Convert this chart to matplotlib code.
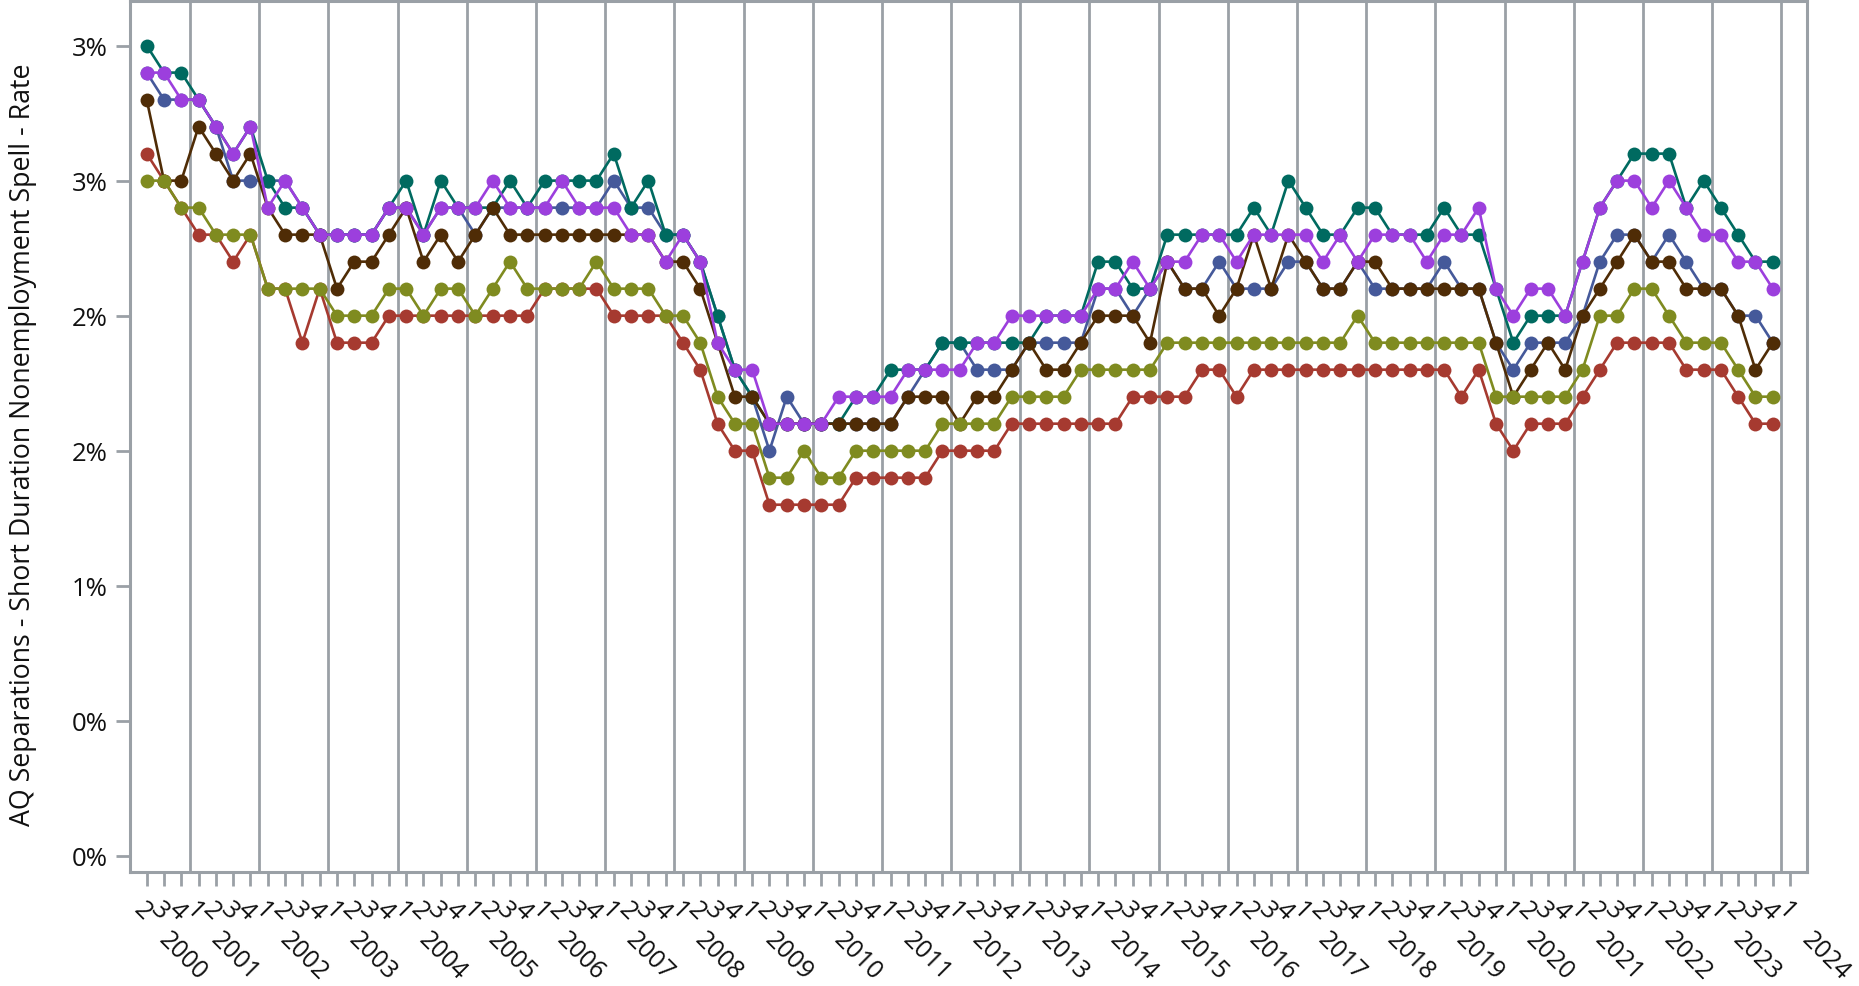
import numpy as np
import matplotlib
matplotlib.use("Agg")
import matplotlib.pyplot as plt
from matplotlib.transforms import blended_transform_factory, offset_copy

plt.rcParams['font.family'] = ['Open Sans', 'DejaVu Sans']

# ---------------- data ----------------
years = list(range(2000, 2025))
first_year_quarters = [2, 3, 4]
last_year_quarters = [1]
quarters = ([(2000, q) for q in first_year_quarters]
            + [(y, q) for y in range(2001, 2024) for q in (1, 2, 3, 4)]
            + [(2024, q) for q in last_year_quarters])
quarter_labels = [str(q) for (_, q) in quarters]

y_ticks = [0.0, 0.5, 1.0, 1.5, 2.0, 2.5, 3.0]
y_tick_labels = ["0%", "0%", "1%", "2%", "2%", "3%", "3%"]
y_title = "AQ Separations - Short Duration Nonemployment Spell - Rate"

teal = [3.0, 2.9, 2.9, 2.8, 2.7, 2.6, 2.7, 2.5, 2.4, 2.4, 2.3, 2.3,
        2.3, 2.3, 2.4, 2.5, 2.3, 2.5, 2.4, 2.4, 2.4, 2.5, 2.4, 2.5,
        2.5, 2.5, 2.5, 2.6, 2.4, 2.5, 2.3, 2.3, 2.2, 2.0, 1.8, 1.7,
        1.6, 1.6, 1.6, 1.6, 1.6, 1.7, 1.7, 1.8, 1.8, 1.8, 1.9, 1.9,
        1.9, 1.9, 1.9, 1.9, 2.0, 2.0, 2.0, 2.2, 2.2, 2.1, 2.1, 2.3,
        2.3, 2.3, 2.3, 2.3, 2.4, 2.3, 2.5, 2.4, 2.3, 2.3, 2.4, 2.4,
        2.3, 2.3, 2.3, 2.4, 2.3, 2.3, 2.1, 1.9, 2.0, 2.0, 2.0, 2.2,
        2.4, 2.5, 2.6, 2.6, 2.6, 2.4, 2.5, 2.4, 2.3, 2.2, 2.2]

slate = [2.9, 2.8, 2.8, 2.8, 2.7, 2.5, 2.5, 2.5, 2.5, 2.4, 2.3, 2.3,
         2.3, 2.3, 2.4, 2.4, 2.3, 2.4, 2.4, 2.3, 2.4, 2.4, 2.4, 2.4,
         2.4, 2.4, 2.4, 2.5, 2.4, 2.4, 2.3, 2.3, 2.2, 2.0, 1.8, 1.7,
         1.5, 1.7, 1.6, 1.6, 1.6, 1.6, 1.6, 1.6, 1.7, 1.8, 1.9, 1.9,
         1.8, 1.8, 1.8, 1.9, 1.9, 1.9, 1.9, 2.1, 2.1, 2.0, 2.1, 2.2,
         2.1, 2.1, 2.2, 2.1, 2.1, 2.1, 2.2, 2.2, 2.1, 2.1, 2.2, 2.1,
         2.1, 2.1, 2.1, 2.2, 2.1, 2.1, 1.9, 1.8, 1.9, 1.9, 1.9, 2.0,
         2.2, 2.3, 2.3, 2.2, 2.3, 2.2, 2.1, 2.1, 2.0, 2.0, 1.9]

purple = [2.9, 2.9, 2.8, 2.8, 2.7, 2.6, 2.7, 2.4, 2.5, 2.4, 2.3, 2.3,
          2.3, 2.3, 2.4, 2.4, 2.3, 2.4, 2.4, 2.4, 2.5, 2.4, 2.4, 2.4,
          2.5, 2.4, 2.4, 2.4, 2.3, 2.3, 2.2, 2.3, 2.2, 1.9, 1.8, 1.8,
          1.6, 1.6, 1.6, 1.6, 1.7, 1.7, 1.7, 1.7, 1.8, 1.8, 1.8, 1.8,
          1.9, 1.9, 2.0, 2.0, 2.0, 2.0, 2.0, 2.1, 2.1, 2.2, 2.1, 2.2,
          2.2, 2.3, 2.3, 2.2, 2.3, 2.3, 2.3, 2.3, 2.2, 2.3, 2.2, 2.3,
          2.3, 2.3, 2.2, 2.3, 2.3, 2.4, 2.1, 2.0, 2.1, 2.1, 2.0, 2.2,
          2.4, 2.5, 2.5, 2.4, 2.5, 2.4, 2.3, 2.3, 2.2, 2.2, 2.1]

brown = [2.8, 2.5, 2.5, 2.7, 2.6, 2.5, 2.6, 2.4, 2.3, 2.3, 2.3, 2.1,
         2.2, 2.2, 2.3, 2.4, 2.2, 2.3, 2.2, 2.3, 2.4, 2.3, 2.3, 2.3,
         2.3, 2.3, 2.3, 2.3, 2.3, 2.3, 2.2, 2.2, 2.1, 1.9, 1.7, 1.7,
         1.6, 1.6, 1.6, 1.6, 1.6, 1.6, 1.6, 1.6, 1.7, 1.7, 1.7, 1.6,
         1.7, 1.7, 1.8, 1.9, 1.8, 1.8, 1.9, 2.0, 2.0, 2.0, 1.9, 2.2,
         2.1, 2.1, 2.0, 2.1, 2.3, 2.1, 2.3, 2.2, 2.1, 2.1, 2.2, 2.2,
         2.1, 2.1, 2.1, 2.1, 2.1, 2.1, 1.9, 1.7, 1.8, 1.9, 1.8, 2.0,
         2.1, 2.2, 2.3, 2.2, 2.2, 2.1, 2.1, 2.1, 2.0, 1.8, 1.9]

olive = [2.5, 2.5, 2.4, 2.4, 2.3, 2.3, 2.3, 2.1, 2.1, 2.1, 2.1, 2.0,
         2.0, 2.0, 2.1, 2.1, 2.0, 2.1, 2.1, 2.0, 2.1, 2.2, 2.1, 2.1,
         2.1, 2.1, 2.2, 2.1, 2.1, 2.1, 2.0, 2.0, 1.9, 1.7, 1.6, 1.6,
         1.4, 1.4, 1.5, 1.4, 1.4, 1.5, 1.5, 1.5, 1.5, 1.5, 1.6, 1.6,
         1.6, 1.6, 1.7, 1.7, 1.7, 1.7, 1.8, 1.8, 1.8, 1.8, 1.8, 1.9,
         1.9, 1.9, 1.9, 1.9, 1.9, 1.9, 1.9, 1.9, 1.9, 1.9, 2.0, 1.9,
         1.9, 1.9, 1.9, 1.9, 1.9, 1.9, 1.7, 1.7, 1.7, 1.7, 1.7, 1.8,
         2.0, 2.0, 2.1, 2.1, 2.0, 1.9, 1.9, 1.9, 1.8, 1.7, 1.7]

red = [2.6, 2.5, 2.4, 2.3, 2.3, 2.2, 2.3, 2.1, 2.1, 1.9, 2.1, 1.9,
       1.9, 1.9, 2.0, 2.0, 2.0, 2.0, 2.0, 2.0, 2.0, 2.0, 2.0, 2.1,
       2.1, 2.1, 2.1, 2.0, 2.0, 2.0, 2.0, 1.9, 1.8, 1.6, 1.5, 1.5,
       1.3, 1.3, 1.3, 1.3, 1.3, 1.4, 1.4, 1.4, 1.4, 1.4, 1.5, 1.5,
       1.5, 1.5, 1.6, 1.6, 1.6, 1.6, 1.6, 1.6, 1.6, 1.7, 1.7, 1.7,
       1.7, 1.8, 1.8, 1.7, 1.8, 1.8, 1.8, 1.8, 1.8, 1.8, 1.8, 1.8,
       1.8, 1.8, 1.8, 1.8, 1.7, 1.8, 1.6, 1.5, 1.6, 1.6, 1.6, 1.7,
       1.8, 1.9, 1.9, 1.9, 1.9, 1.8, 1.8, 1.8, 1.7, 1.6, 1.6]

# drawing order: bottom to top
series = [
    (red, "#a63a30"),
    (slate, "#45599a"),
    (teal, "#006a60"),
    (brown, "#4f2c06"),
    (olive, "#7f8b20"),
    (purple, "#9c3fdd"),
]

# ---------------- figure ----------------
DPI = 100
W, H = 1859, 987
fig = plt.figure(figsize=(W / DPI, H / DPI), dpi=DPI)
ax_left, ax_right, ax_bottom, ax_top = 130, 1806.7, 872.7, 1.5
ax = fig.add_axes([ax_left / W, (H - ax_bottom) / H,
                   (ax_right - ax_left) / W, (ax_bottom - ax_top) / H])

grey = "#9aa0a6"
txt = "#111111"
n_cat = len(quarters)

for vals, col in series:
    x = np.arange(len(vals))
    ax.plot(x, vals, color=col, lw=1.9, marker="o", markersize=10,
            markeredgewidth=0, zorder=3, clip_on=False)

# year separators
for i, (y, q) in enumerate(quarters):
    if q == 1:
        ax.axvline(i - 0.5, color=grey, lw=2.0, zorder=1)

ax.set_xlim(-0.965, n_cat - 1 + 0.96)
ax.set_ylim(-0.059, 3.167)

for s in ax.spines.values():
    s.set_color(grey)
    s.set_linewidth(2.2)

ax.set_yticks(y_ticks)
ax.set_yticklabels(y_tick_labels, fontsize=18.5, color=txt)
ax.set_xticks(np.arange(n_cat))
ax.set_xticklabels([])
ax.tick_params(axis="both", colors=grey, length=10, width=2.0, labelcolor=txt)
ax.tick_params(axis="y", pad=6)

fig.text(23 / W, 1 - 444.5 / H, y_title, rotation=90, ha="center", va="center",
         fontsize=19.3, color=txt)

# quarter labels
trans = blended_transform_factory(ax.transData, ax.transAxes)
q_trans = offset_copy(trans, fig=fig, x=-4, y=-39, units="dots")
for i, lab in enumerate(quarter_labels):
    ax.text(i, 0, lab, transform=q_trans, rotation=-45, ha="center", va="center",
            rotation_mode="anchor", fontsize=18, color=txt, clip_on=False)

# year labels
y_trans = offset_copy(trans, fig=fig, x=10, y=-84, units="dots")
first_idx = {}
for i, (y, q) in enumerate(quarters):
    first_idx.setdefault(y, i)
for y in years:
    ax.text(first_idx[y] + 1.5, 0, str(y), transform=y_trans, rotation=-45,
            ha="center", va="center", rotation_mode="anchor", fontsize=18,
            color=txt, clip_on=False)

fig.savefig("out.png", dpi=DPI, facecolor="white")
